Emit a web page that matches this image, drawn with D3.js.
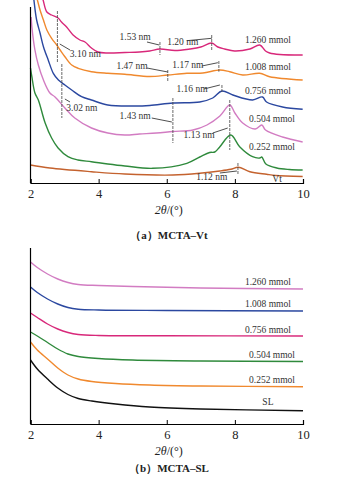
<!DOCTYPE html>
<html><head><meta charset="utf-8">
<script src="https://cdn.jsdelivr.net/npm/d3@7"></script>
<style>
body{margin:0;background:#fff;}
svg{display:block;}
text{font-family:"Liberation Serif","DejaVu Serif",serif;}
</style></head>
<body><svg id="c" width="337" height="479"></svg>
<script>
// ---------- DATA ----------
const xTicks = [2, 4, 6, 8, 10];

// Panel (a) MCTA-Vt : [2θ, intensity a.u.]
const vt_1260 = [[2.30,191],[2.37,183],[2.48,171],[2.62,168],[2.81,165],[2.91,161],[3.06,156],[3.25,148],[3.45,143],[3.60,141],[3.79,135],[3.98,131],[4.27,130],[4.77,130.5],[5.2,131],[5.5,132],[5.8,134],[6.24,132.5],[6.68,134],[7.0,136],[7.32,140],[7.5,136],[7.70,134],[7.99,132],[8.44,134],[8.73,138],[8.9,132],[9.02,130],[9.32,128.5],[9.99,128]];
const vt_1008 = [[2.15,190],[2.21,182],[2.28,173],[2.38,163],[2.48,153],[2.62,144.7],[2.77,138],[2.87,133],[3.01,126.3],[3.21,118],[3.40,114.7],[3.79,111.3],[4.27,109.7],[4.77,108.7],[5.5,106.5],[6.03,108],[6.59,109.7],[7.06,110],[7.56,113],[7.85,111.3],[8.23,108],[8.73,109.7],[9.02,106.3],[9.99,103]];
const vt_0756 = [[2.07,192],[2.10,183],[2.18,163],[2.28,150],[2.38,136.3],[2.52,123],[2.67,109.7],[2.82,103],[3.01,98],[3.21,93],[3.50,86.3],[3.79,83],[4.27,78],[5.01,77],[5.5,77.5],[6.18,80],[6.97,81],[7.35,85],[7.62,92],[7.94,88],[8.52,83],[8.81,86],[8.93,81],[9.40,76],[9.99,73.7]];
const vt_0504 = [[2.02,166],[2.04,156.3],[2.13,133],[2.23,118],[2.38,103],[2.57,90],[2.72,86],[3.01,75],[3.30,65],[3.79,55],[4.27,50],[4.77,48],[5.2,49],[5.7,50],[6.18,51.5],[6.77,53],[7.18,58],[7.56,67],[7.85,78],[8.0,70],[8.23,60],[8.6,54],[8.79,58],[8.9,53],[9.40,46],[9.99,41]];
const vt_0252 = [[2.0,115],[2.04,106.3],[2.13,90],[2.23,83],[2.43,60],[2.62,45],[2.81,35],[3.10,26.3],[3.39,23],[3.79,21.3],[4.27,19],[4.77,17],[5.59,14.7],[6.59,19.7],[6.97,26],[7.26,30.5],[7.41,31],[7.56,36.3],[7.88,48],[8.14,36.3],[8.52,26.3],[8.73,25],[8.79,26],[8.91,19],[9.23,15],[9.6,13.5],[9.99,13]];
const vt_vt   = [[2.0,18],[2.57,15],[3.79,11.3],[4.77,9],[6.18,8],[6.97,9.7],[7.56,12],[7.88,13.7],[8.1,15.7],[8.44,11.3],[8.93,8.7],[9.2,7.5],[9.99,6.5]];

const seriesA = [
  {name:"1.260 mmol", color:"#d8287a", values:vt_1260, lx:8.97, ly:142},
  {name:"1.008 mmol", color:"#f0892e", values:vt_1008, lx:8.97, ly:115},
  {name:"0.756 mmol", color:"#2b48a0", values:vt_0756, lx:8.97, ly:91},
  {name:"0.504 mmol", color:"#d27cc2", values:vt_0504, lx:9.09, ly:63},
  {name:"0.252 mmol", color:"#2f8a3c", values:vt_0252, lx:9.09, ly:35},
  {name:"Vt",         color:"#c4622e", values:vt_vt,   lx:9.24, ly:3}
];

// peak annotations: label, 2θ of marker, marker span (a.u.), label point, leader
const peaksA = [
  {t:"3.10 nm", x:2.79, y1:172, y2:120, lx:3.61, ly:128, ax:2.86, ay:139, bx:3.16, by:133},
  {t:"1.53 nm", x:5.80, y1:141, y2:128, lx:5.07, ly:145, ax:5.42, ay:141, bx:5.78, by:138},
  {t:"1.20 nm", x:7.32, y1:148, y2:133, lx:6.47, ly:140, ax:6.59, ay:142.3, bx:7.32, by:144.7},
  {t:"1.47 nm", x:6.03, y1:113, y2:102, lx:4.98, ly:116, ax:5.42, ay:115, bx:6.03, by:111},
  {t:"1.17 nm", x:7.53, y1:122, y2:111.3, lx:6.62, ly:117, ax:7.03, ay:117, bx:7.50, by:120.3},
  {t:"1.16 nm", x:7.62, y1:98, y2:90, lx:6.74, ly:93, ax:7.09, ay:94, bx:7.56, by:98},
  {t:"3.02 nm", x:2.92, y1:119, y2:65, lx:3.51, ly:74, ax:3.01, ay:84, bx:3.16, by:81},
  {t:"1.43 nm", x:6.18, y1:85, y2:40, lx:5.07, ly:66, ax:5.56, ay:65, bx:6.15, by:61},
  {t:"1.13 nm", x:7.85, y1:83, y2:33, lx:6.95, ly:47, ax:7.35, ay:50, bx:7.79, by:55},
  {t:"1.12 nm", x:8.09, y1:20, y2:8, lx:7.32, ly:5, ax:7.56, ay:10, bx:8.06, by:12}
];

// Panel (b) MCTA-SL
const sl_1260 = [[2.0,162],[2.2,156.5],[2.5,150],[2.8,145],[3.1,141.5],[3.4,139.5],[4.0,138.5],[5.0,137.5],[7.0,136],[10,135]];
const sl_1008 = [[2.0,137],[2.2,131.5],[2.5,125],[2.8,120],[3.1,116.5],[3.4,114.8],[4.0,114],[6.0,113.5],[10,113]];
const sl_0756 = [[2.0,111],[2.2,106.5],[2.5,100],[2.8,95],[3.1,91.5],[3.4,89.5],[4.0,88.5],[6.0,88.2],[10,88]];
const sl_0504 = [[2.0,92],[2.2,88],[2.5,81.5],[2.8,75],[3.1,70],[3.4,67.5],[4.0,65.5],[5.0,64],[7.0,63],[10,62.5]];
const sl_0252 = [[2.0,82],[2.2,74],[2.5,65],[2.8,56],[3.1,49],[3.4,45],[3.8,42.5],[4.5,40.5],[5.5,39],[7.0,38],[10,37.3]];
const sl_sl   = [[2.0,64],[2.2,55],[2.5,45],[2.8,36],[3.1,29.5],[3.4,25.5],[3.8,23],[4.5,20],[5.5,17],[7.0,15],[10,13.3]];

const seriesB = [
  {name:"1.260 mmol", color:"#d27cc2", values:sl_1260, lx:8.97, ly:141},
  {name:"1.008 mmol", color:"#2b48a0", values:sl_1008, lx:8.97, ly:119},
  {name:"0.756 mmol", color:"#d8287a", values:sl_0756, lx:8.97, ly:93},
  {name:"0.504 mmol", color:"#2f8a3c", values:sl_0504, lx:9.09, ly:68},
  {name:"0.252 mmol", color:"#f0892e", values:sl_0252, lx:9.09, ly:43},
  {name:"SL",         color:"#111111", values:sl_sl,   lx:8.97, ly:21}
];

// ---------- DRAW ----------
const svg = d3.select("#c");
const x = d3.scaleLinear().domain([2,10]).range([30.5,303]);

function panel(top, bottom, series, peaks, caption){
  const y = d3.scaleLinear().domain([0,176]).range([bottom, bottom-176]);
  const g = svg.append("g");
  const line = d3.line().x(d=>x(d[0])).y(d=>y(d[1])).curve(d3.curveCatmullRom.alpha(0.5));

  g.selectAll("path.s").data(series).join("path")
    .attr("fill","none").attr("stroke",d=>d.color).attr("stroke-width",1.4)
    .attr("stroke-linejoin","round").attr("d",d=>line(d.values));

  g.selectAll("text.lab").data(series).join("text")
    .attr("x",d=>x(d.lx)).attr("y",d=>y(d.ly)).attr("text-anchor","middle")
    .attr("dominant-baseline","middle").attr("font-size",9.5).attr("fill","#333")
    .text(d=>d.name);

  if(peaks){
    peaks.forEach(p=>{
      g.append("line").attr("x1",x(p.x)).attr("x2",x(p.x)).attr("y1",y(p.y1)).attr("y2",y(p.y2))
        .attr("stroke","#444").attr("stroke-width",0.8).attr("stroke-dasharray","3,1");
      g.append("line").attr("x1",x(p.ax)).attr("y1",y(p.ay)).attr("x2",x(p.bx)).attr("y2",y(p.by))
        .attr("stroke","#222").attr("stroke-width",0.8);
      g.append("text").attr("x",x(p.lx)).attr("y",y(p.ly)).attr("text-anchor","middle")
        .attr("dominant-baseline","middle").attr("font-size",9.5).attr("fill","#333").text(p.t);
    });
  }

  // axes
  g.append("line").attr("x1",x(2)).attr("x2",x(2)).attr("y1",top).attr("y2",bottom)
    .attr("stroke","#000").attr("stroke-width",1.2);
  const ax = d3.axisBottom(x).tickValues(xTicks).tickSize(-4).tickPadding(6).tickFormat(d3.format("d"));
  const axg = g.append("g").attr("transform",`translate(0,${bottom})`).call(ax);
  axg.select(".domain").attr("stroke","#000").attr("stroke-width",1.2);
  axg.selectAll(".tick line").attr("stroke","#000");
  axg.selectAll(".tick text").attr("font-family","Liberation Serif, serif").attr("font-size",12.5).attr("fill","#222");

  const tt = g.append("text").attr("x",x(6)+2).attr("y",bottom+31).attr("text-anchor","middle")
    .attr("font-size",12).attr("fill","#222");
  tt.append("tspan").attr("font-style","italic").text("2θ");
  tt.append("tspan").text("/(°)");

  g.append("text").attr("x",169).attr("y",caption.y).attr("text-anchor","middle")
    .attr("font-size",11).attr("font-weight","bold").attr("fill","#222").text(caption.t);
}

panel(7, 183, seriesA, peaksA, {t:"（a）MCTA–Vt", y:239});
panel(248, 424, seriesB, null, {t:"（b）MCTA–SL", y:472});
</script></body></html>
